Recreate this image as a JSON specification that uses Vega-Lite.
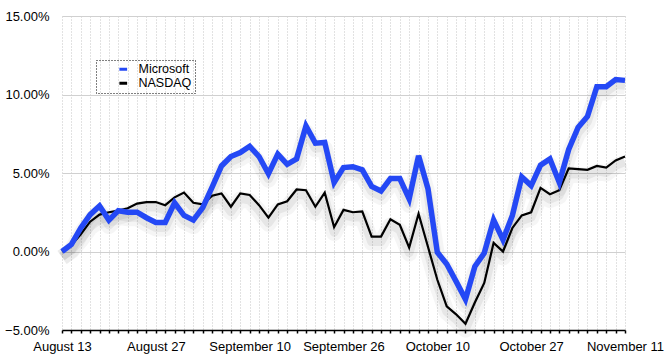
{
  "$schema": "https://vega.github.io/schema/vega-lite/v6.json",
  "width": 563,
  "height": 314,
  "autosize": "none",
  "padding": {"left": 62, "top": 16, "right": 42, "bottom": 25},
  "background": "white",
  "config": {
    "font": "Liberation Sans",
    "view": {"stroke": null},
    "axis": {"labelFont": "Liberation Sans", "labelColor": "#000", "labelFontSize": 13}
  },
  "data": {"values": [
    {"i":0,"Microsoft":0,"NASDAQ":0},
    {"i":1,"Microsoft":0.45,"NASDAQ":0.4},
    {"i":2,"Microsoft":1.5,"NASDAQ":1.1},
    {"i":3,"Microsoft":2.35,"NASDAQ":1.9},
    {"i":4,"Microsoft":2.9,"NASDAQ":2.35},
    {"i":5,"Microsoft":2.0,"NASDAQ":2.5},
    {"i":6,"Microsoft":2.6,"NASDAQ":2.6},
    {"i":7,"Microsoft":2.5,"NASDAQ":2.75},
    {"i":8,"Microsoft":2.5,"NASDAQ":3.05},
    {"i":9,"Microsoft":2.15,"NASDAQ":3.15},
    {"i":10,"Microsoft":1.85,"NASDAQ":3.15},
    {"i":11,"Microsoft":1.85,"NASDAQ":2.95},
    {"i":12,"Microsoft":3.1,"NASDAQ":3.45},
    {"i":13,"Microsoft":2.3,"NASDAQ":3.75},
    {"i":14,"Microsoft":2.0,"NASDAQ":3.1},
    {"i":15,"Microsoft":2.8,"NASDAQ":3.0},
    {"i":16,"Microsoft":4.1,"NASDAQ":3.55},
    {"i":17,"Microsoft":5.45,"NASDAQ":3.7},
    {"i":18,"Microsoft":6.05,"NASDAQ":2.85},
    {"i":19,"Microsoft":6.3,"NASDAQ":3.7},
    {"i":20,"Microsoft":6.7,"NASDAQ":3.6},
    {"i":21,"Microsoft":6.05,"NASDAQ":2.95},
    {"i":22,"Microsoft":4.95,"NASDAQ":2.15},
    {"i":23,"Microsoft":6.2,"NASDAQ":3.0},
    {"i":24,"Microsoft":5.55,"NASDAQ":3.2},
    {"i":25,"Microsoft":5.9,"NASDAQ":3.95},
    {"i":26,"Microsoft":8.0,"NASDAQ":3.9},
    {"i":27,"Microsoft":6.9,"NASDAQ":2.85},
    {"i":28,"Microsoft":6.95,"NASDAQ":3.75},
    {"i":29,"Microsoft":4.4,"NASDAQ":1.55},
    {"i":30,"Microsoft":5.35,"NASDAQ":2.65},
    {"i":31,"Microsoft":5.4,"NASDAQ":2.5},
    {"i":32,"Microsoft":5.2,"NASDAQ":2.55},
    {"i":33,"Microsoft":4.15,"NASDAQ":0.95},
    {"i":34,"Microsoft":3.85,"NASDAQ":0.95},
    {"i":35,"Microsoft":4.65,"NASDAQ":2.05},
    {"i":36,"Microsoft":4.65,"NASDAQ":1.7},
    {"i":37,"Microsoft":3.35,"NASDAQ":0.25},
    {"i":38,"Microsoft":6.1,"NASDAQ":2.4},
    {"i":39,"Microsoft":4.0,"NASDAQ":0.3},
    {"i":40,"Microsoft":-0.05,"NASDAQ":-1.8},
    {"i":41,"Microsoft":-0.8,"NASDAQ":-3.5},
    {"i":42,"Microsoft":-1.9,"NASDAQ":-4.0},
    {"i":43,"Microsoft":-3.05,"NASDAQ":-4.6},
    {"i":44,"Microsoft":-0.95,"NASDAQ":-3.25},
    {"i":45,"Microsoft":-0.1,"NASDAQ":-2.0},
    {"i":46,"Microsoft":2.0,"NASDAQ":0.55},
    {"i":47,"Microsoft":0.75,"NASDAQ":0.0},
    {"i":48,"Microsoft":2.3,"NASDAQ":1.5},
    {"i":49,"Microsoft":4.75,"NASDAQ":2.3},
    {"i":50,"Microsoft":4.2,"NASDAQ":2.5},
    {"i":51,"Microsoft":5.5,"NASDAQ":4.05},
    {"i":52,"Microsoft":5.9,"NASDAQ":3.65},
    {"i":53,"Microsoft":4.4,"NASDAQ":3.9},
    {"i":54,"Microsoft":6.5,"NASDAQ":5.3},
    {"i":55,"Microsoft":7.9,"NASDAQ":5.25},
    {"i":56,"Microsoft":8.6,"NASDAQ":5.2},
    {"i":57,"Microsoft":10.5,"NASDAQ":5.45},
    {"i":58,"Microsoft":10.5,"NASDAQ":5.35},
    {"i":59,"Microsoft":10.95,"NASDAQ":5.8},
    {"i":60,"Microsoft":10.9,"NASDAQ":6.05}
  ]},
  "transform": [{"fold": ["Microsoft", "NASDAQ"], "as": ["series", "value"]}],
  "encoding": {
    "x": {
      "field": "i", "type": "quantitative",
      "scale": {"domain": [0, 60], "nice": false, "zero": false},
      "axis": {
        "title": null,
        "values": [0,1,2,3,4,5,6,7,8,9,10,11,12,13,14,15,16,17,18,19,20,21,22,23,24,25,26,27,28,29,30,31,32,33,34,35,36,37,38,39,40,41,42,43,44,45,46,47,48,49,50,51,52,53,54,55,56,57,58,59,60],
        "labelExpr": "datum.value==0?'August 13':datum.value==10?'August 27':datum.value==20?'September 10':datum.value==30?'September 26':datum.value==40?'October 10':datum.value==50?'October 27':datum.value==60?'November 11':''",
        "labelOverlap": false,
        "labelFlush": false,
        "labelPadding": 7,
        "grid": true,
        "gridColor": "#c4c4c4",
        "gridDash": [1, 2],
        "gridWidth": 1,
        "domainColor": "#000",
        "domainWidth": 1.5,
        "tickColor": "#000",
        "tickSize": 3,
        "tickWidth": 1.5
      }
    },
    "y": {
      "field": "value", "type": "quantitative",
      "scale": {"domain": [-5, 15], "nice": false, "zero": false},
      "axis": {
        "title": null,
        "values": [-5, 0, 5, 10, 15],
        "labelExpr": "format(datum.value, '.2f') + '%'",
        "domain": false,
        "ticks": false,
        "labelPadding": 13,
        "grid": true,
        "gridColor": "#d0d0d0",
        "gridWidth": 1
      }
    }
  },
  "layer": [
    {
      "mark": {"type": "line", "color": "#000", "strokeWidth": 16, "opacity": 0.04, "yOffset": 6, "strokeJoin": "round"},
      "encoding": {"detail": {"field": "series"}}
    },
    {
      "mark": {"type": "line", "color": "#000", "strokeWidth": 9, "opacity": 0.06, "yOffset": 5, "strokeJoin": "round"},
      "encoding": {"detail": {"field": "series"}}
    },
    {
      "transform": [{"filter": "datum.series == 'NASDAQ'"}],
      "mark": {"type": "line", "strokeWidth": 2.2, "strokeJoin": "miter"},
      "encoding": {
        "color": {
          "field": "series", "type": "nominal",
          "scale": {"domain": ["Microsoft", "NASDAQ"], "range": ["#2448f5", "#000000"]},
          "legend": {
            "title": null,
            "orient": "none",
            "legendX": 34,
            "legendY": 44,
            "symbolType": "stroke",
            "symbolSize": 60,
            "symbolStrokeWidth": 3,
            "symbolOffset": 18,
            "labelFontSize": 12.5,
            "labelFont": "Liberation Sans",
            "labelColor": "#000",
            "labelOffset": 9,
            "rowPadding": 1,
            "padding": 3,
            "strokeColor": "#000",
            "encode": {"legend": {"update": {"strokeDash": {"value": [1, 2]}, "strokeWidth": {"value": 1}}}}
          }
        }
      }
    },
    {
      "transform": [{"filter": "datum.series == 'Microsoft'"}],
      "mark": {"type": "line", "strokeWidth": 5.5, "strokeJoin": "miter"},
      "encoding": {
        "color": {"field": "series", "type": "nominal"}
      }
    }
  ]
}
